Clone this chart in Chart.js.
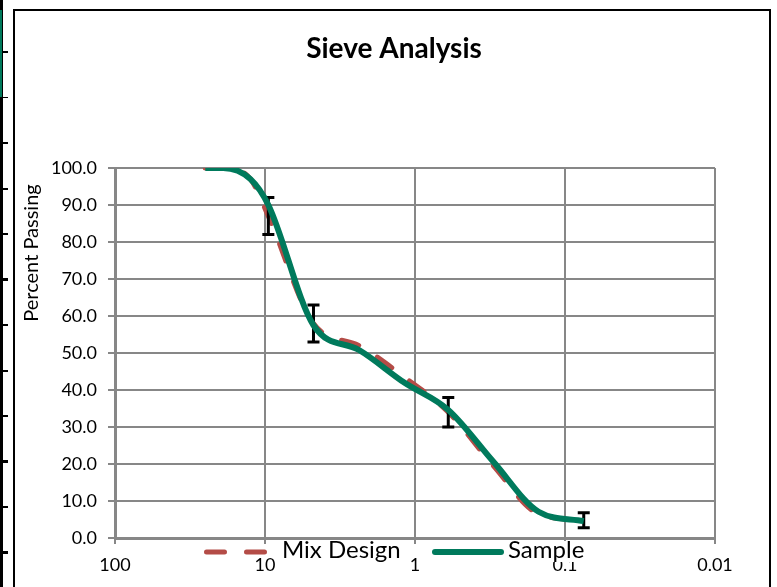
<!DOCTYPE html>
<html>
<head>
<meta charset="utf-8">
<title>Sieve Analysis</title>
<script src="https://cdn.jsdelivr.net/npm/chart.js@4.4.1/dist/chart.umd.min.js"></script>
<style>
    html, body { margin: 0; padding: 0; background: #fff; }
    #wrap { position: relative; width: 777px; height: 587px; overflow: hidden; }
    #frame { position: absolute; left: 13px; top: 9px; width: 754px; height: 600px; border: 2px solid #000; }
    #edge { position: absolute; left: 0; top: 0; width: 3px; height: 587px; background: #000; }
    #edgeGreen { position: absolute; left: 0; top: 10px; width: 2px; height: 87px; background: #007a5c; }
    #edgeTicks { position: absolute; left: 3px; top: 51px; width: 5px; height: 536px;
        background: repeating-linear-gradient(to bottom, #000 0, #000 2px, transparent 2px, transparent 45.5px); }
    #chartBox { position: absolute; left: 0; top: 0; width: 777px; height: 587px; }
</style>
</head>
<body>
<div id="wrap">
    <div id="edge"></div>
    <div id="edgeGreen"></div>
    <div id="edgeTicks"></div>
    <div id="frame"></div>
    <div id="chartBox"><canvas id="sieveChart"></canvas></div>
</div>
<script>
// Размеры сит (мм) и проценты прохода
const sieveSizes = [25, 19, 12.5, 9.5, 4.75, 2.36, 1.18, 0.6, 0.3, 0.15, 0.075];
const mixDesign = [100, 100, 97, 87, 58, 52, 43.5, 34, 19.5, 6.5, 4.8];
const sample = [100, 100, 97, 90, 57.5, 50.8, 42, 34.6, 20.6, 7.1, 4.6];
// Допуски для состава смеси (0 = без планки)
const mixTolerance = [0, 0, 0, 5, 5, 0, 0, 4, 0, 0, 2];

const xTickValues = [100, 10, 1, 0.1, 0.01];
const xTickLabels = ['100', '10', '1', '0.1', '0.01'];
const yTickValues = [0, 10, 20, 30, 40, 50, 60, 70, 80, 90, 100];

const seriesLabels = ['Mix Design', 'Sample'];
const chartTitle = 'Sieve Analysis';
const yAxisTitle = 'Percent Passing';

const mixColor = '#b44c47';
const sampleColor = '#007a5c';
const gridColor = '#878787';

Chart.defaults.font.family = 'Lato, "Open Sans", sans-serif';
Chart.defaults.color = '#000';

// Планки погрешностей поверх линии состава смеси
const errorBarPlugin = {
    id: 'errorBars',
    afterDatasetDraw(chart, args) {
        if (args.index !== 0) return;
        const { ctx, scales: { x, y } } = chart;
        ctx.save();
        ctx.strokeStyle = '#000';
        ctx.lineWidth = 3;
        sieveSizes.forEach((size, i) => {
            const tol = mixTolerance[i];
            if (!tol) return;
            const px = x.getPixelForValue(size);
            const top = y.getPixelForValue(mixDesign[i] + tol);
            const bottom = y.getPixelForValue(mixDesign[i] - tol);
            ctx.beginPath();
            ctx.moveTo(px, top);
            ctx.lineTo(px, bottom);
            ctx.moveTo(px - 6, top);
            ctx.lineTo(px + 6, top);
            ctx.moveTo(px - 6, bottom);
            ctx.lineTo(px + 6, bottom);
            ctx.stroke();
        });
        ctx.restore();
    }
};

// Заголовок, подпись оси Y и легенда рисуются вручную (как в Excel)
const decorPlugin = {
    id: 'decor',
    afterDraw(chart) {
        const ctx = chart.ctx;
        ctx.save();

        ctx.fillStyle = '#000';
        ctx.font = 'bold 28px Lato, sans-serif';
        ctx.textAlign = 'center';
        ctx.textBaseline = 'alphabetic';
        ctx.fillText(chartTitle, 394, 58);

        ctx.save();
        ctx.translate(38, 253);
        ctx.rotate(-Math.PI / 2);
        ctx.font = '20px Lato, sans-serif';
        ctx.fillText(yAxisTitle, 0, 0);
        ctx.restore();

        // Легенда
        const legendY = 552;
        ctx.font = '24px Lato, sans-serif';
        ctx.textAlign = 'left';
        const items = [
            { lineStart: 206.5, lineEnd: 266.5, textX: 282, ds: chart.data.datasets[0] },
            { lineStart: 435, lineEnd: 501, textX: 508, ds: chart.data.datasets[1] }
        ];
        items.forEach(item => {
            const w = ctx.measureText(item.ds.label).width;
            ctx.fillStyle = '#fff';
            ctx.fillRect(item.textX - 2, 541, w + 4, 21);
            ctx.beginPath();
            ctx.strokeStyle = item.ds.borderColor;
            ctx.lineWidth = item.ds.borderWidth;
            ctx.lineCap = 'round';
            ctx.setLineDash(item.ds.borderDash || []);
            ctx.moveTo(item.lineStart, legendY);
            ctx.lineTo(item.lineEnd, legendY);
            ctx.stroke();
            ctx.setLineDash([]);
            ctx.fillStyle = '#000';
            ctx.fillText(item.ds.label, item.textX, 558);
        });

        ctx.restore();
    }
};

const ctx = document.getElementById('sieveChart').getContext('2d');
new Chart(ctx, {
    type: 'scatter',
    data: {
        datasets: [
            {
                label: seriesLabels[0],
                data: sieveSizes.map((s, i) => ({ x: s, y: mixDesign[i] })),
                borderColor: mixColor,
                backgroundColor: mixColor,
                borderWidth: 5,
                borderDash: [18, 22],
                borderCapStyle: 'round',
                pointRadius: 0,
                showLine: true,
                fill: false,
                cubicInterpolationMode: 'monotone',
                order: 2
            },
            {
                label: seriesLabels[1],
                data: sieveSizes.map((s, i) => ({ x: s, y: sample[i] })),
                borderColor: sampleColor,
                backgroundColor: sampleColor,
                borderWidth: 6,
                pointRadius: 0,
                showLine: true,
                fill: false,
                cubicInterpolationMode: 'monotone',
                order: 1
            }
        ]
    },
    options: {
        responsive: true,
        maintainAspectRatio: false,
        animation: false,
        layout: {
            padding: { top: 168, right: 62, left: 0, bottom: 0 }
        },
        plugins: {
            legend: { display: false },
            title: { display: false },
            tooltip: { enabled: false }
        },
        scales: {
            x: {
                type: 'logarithmic',
                reverse: true,
                min: 0.01,
                max: 100,
                afterBuildTicks: scale => {
                    scale.ticks = xTickValues.map(v => ({ value: v }));
                },
                afterFit: scale => { scale.height = 49; },
                ticks: {
                    autoSkip: false,
                    maxRotation: 0,
                    padding: 10,
                    font: { size: 18 },
                    callback: (value, index) => xTickLabels[index]
                },
                grid: {
                    color: gridColor,
                    lineWidth: 2,
                    tickLength: 6
                },
                border: { color: gridColor, width: 3 }
            },
            y: {
                min: 0,
                max: 100,
                afterBuildTicks: scale => {
                    scale.ticks = yTickValues.map(v => ({ value: v }));
                },
                afterFit: scale => { scale.width = 115; },
                ticks: {
                    padding: 11,
                    font: { size: 18 },
                    callback: value => value.toFixed(1)
                },
                grid: {
                    color: gridColor,
                    lineWidth: 2,
                    tickLength: 7
                },
                border: { color: gridColor, width: 3 }
            }
        }
    },
    plugins: [errorBarPlugin, decorPlugin]
});
</script>
</body>
</html>
